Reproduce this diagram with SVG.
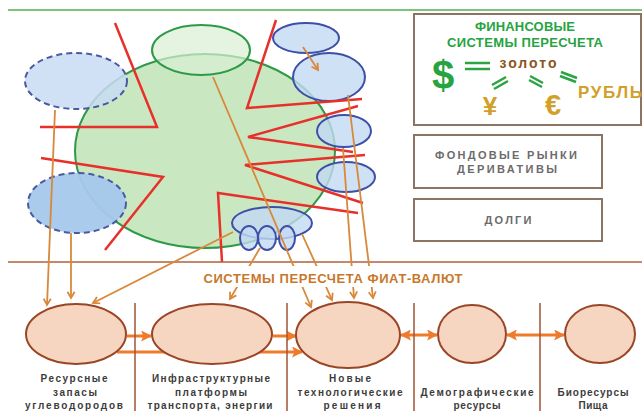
<svg xmlns="http://www.w3.org/2000/svg" width="642" height="411" viewBox="0 0 642 411">
<defs>
<marker id="oa" viewBox="0 0 10 10" refX="8" refY="5" markerWidth="9" markerHeight="9" markerUnits="userSpaceOnUse" orient="auto">
<path d="M1,1 L8,5 L1,9" fill="none" stroke="#d9883a" stroke-width="2"/>
</marker>
<marker id="ob" viewBox="0 0 10 10" refX="9" refY="5" markerWidth="11" markerHeight="11" markerUnits="userSpaceOnUse" orient="auto-start-reverse">
<path d="M0,0 L10,5 L0,10 L2,5 z" fill="#ee7a2a"/>
</marker>
</defs>
<style>
.blue{fill:#c3d9f2;fill-opacity:0.8;stroke:#3d4fa8;stroke-width:2}
.red{fill:none;stroke:#e8302a;stroke-width:2.5;stroke-linejoin:miter}
.con{fill:none;stroke:#d9883a;stroke-width:1.8;marker-end:url(#oa)}
.pl{fill:none;stroke:#d9883a;stroke-width:1.8}
.bot{fill:#f6d6c0;stroke:#9a4526;stroke-width:2}
.flow{fill:none;stroke:#ee7a2a;stroke-width:3;marker-end:url(#ob)}
.div{stroke:#a05533;stroke-width:1.5}
.box{fill:#fff;stroke:#8c7362;stroke-width:2}
.lab{font-family:"Liberation Sans",Arial,sans-serif;font-weight:bold;font-size:10px;fill:#3c3c3c;text-anchor:middle}
.gt{font-family:"Liberation Sans",Arial,sans-serif;font-weight:bold;font-size:11px;fill:#6b6b6b;text-anchor:middle}
.gr{font-family:"Liberation Sans",Arial,sans-serif;font-weight:bold;fill:#27a33f;text-anchor:middle}
.gold{font-family:"Liberation Sans",Arial,sans-serif;font-weight:bold;fill:#d2a02a;text-anchor:middle}
.eq{stroke:#2ca444;stroke-width:2.5}
</style>
<line x1="8" y1="10" x2="642" y2="10" stroke="#7cc47a" stroke-width="2"/>
<g id="core">
<ellipse cx="205" cy="151" rx="130" ry="97" fill="#c9e7c1" stroke="#2e9a48" stroke-width="2"/>
</g>
<g id="top-green">
<ellipse cx="201" cy="50" rx="49" ry="25" fill="#d9efd3" fill-opacity="0.7" stroke="#2e9a48" stroke-width="2"/>
</g>
<g id="left-dashed-1">
<ellipse cx="76" cy="81" rx="51" ry="28" fill="#c8dcf3" fill-opacity="0.85" stroke="#4a5aa0" stroke-width="2" stroke-dasharray="6,4"/>
</g>
<g id="left-dashed-2">
<ellipse cx="77" cy="203" rx="49" ry="30" fill="#a7c8ec" fill-opacity="0.95" stroke="#4a5aa0" stroke-width="2" stroke-dasharray="6,4"/>
</g>
<g id="right-ellipses">
<ellipse class="blue" cx="306" cy="38" rx="33" ry="15"/>
<ellipse class="blue" cx="329" cy="77" rx="36" ry="24"/>
<ellipse class="blue" cx="344" cy="131" rx="27" ry="16"/>
<ellipse class="blue" cx="346" cy="177" rx="29" ry="15"/>
<ellipse class="blue" cx="272" cy="223" rx="40" ry="16"/>
<ellipse class="blue" cx="249" cy="238" rx="9" ry="12"/>
<ellipse class="blue" cx="267" cy="238" rx="9" ry="12"/>
<ellipse class="blue" cx="287" cy="238" rx="8" ry="12"/>
</g>
<g id="red-lines">
<polyline class="red" points="115,23 157,127 40,127"/>
<polyline class="red" points="41,158 163,177 105,250"/>
<polyline class="red" points="276,20 247,108 362,99"/>
<polyline class="red" points="358,106 248,137 353,152"/>
<polyline class="red" points="365,155 245,165 363,203"/>
<polyline class="red" points="358,213 218,193 222,262"/>
</g>
<line x1="8" y1="262" x2="642" y2="262" stroke="#b0603a" stroke-width="1.5"/>
<g id="connectors">
<line class="con" x1="303" y1="47" x2="318" y2="70"/>
<line class="con" x1="55" y1="110" x2="47" y2="305"/>
<line class="con" x1="71" y1="233" x2="71" y2="298"/>
<line class="con" x1="233" y1="232" x2="93" y2="303"/>
<line class="con" x1="260" y1="248" x2="230" y2="299"/>
<line class="con" x1="213" y1="77" x2="311" y2="307"/>
<line class="con" x1="302" y1="234" x2="332" y2="300"/>
<line class="con" x1="343" y1="148" x2="354" y2="298"/>
<line class="con" x1="348" y1="95" x2="373" y2="298"/>
<line class="flow" x1="127" y1="336" x2="151" y2="336"/>
<line class="flow" x1="273" y1="336" x2="296" y2="336"/>
<line class="flow" x1="117" y1="352" x2="302" y2="352"/>
<line class="flow" x1="401" y1="335" x2="437" y2="335" marker-start="url(#ob)"/>
<line class="flow" x1="507" y1="335" x2="564" y2="335" marker-start="url(#ob)"/>
</g>
<rect x="198" y="266" width="272" height="21" fill="#fff"/>
<text x="333" y="283" font-family="Liberation Sans, Arial, sans-serif" font-weight="bold" font-size="13" fill="#c8782a" text-anchor="middle" textLength="259" lengthAdjust="spacing">СИСТЕМЫ ПЕРЕСЧЕТА ФИАТ-ВАЛЮТ</text>
<g id="dividers">
<line class="div" x1="135" y1="303" x2="135" y2="411"/>
<line class="div" x1="287" y1="303" x2="287" y2="411"/>
<line class="div" x1="414" y1="303" x2="414" y2="411"/>
<line class="div" x1="540" y1="303" x2="540" y2="411"/>
</g>
<g id="resources">
<ellipse class="bot" cx="76" cy="334" rx="50" ry="30"/>
<text class="lab" x="74" y="382" textLength="67" lengthAdjust="spacing">Ресурсные</text>
<text class="lab" x="75" y="396" textLength="44" lengthAdjust="spacing">запасы</text>
<text class="lab" x="74" y="409" textLength="98" lengthAdjust="spacing">углеводородов</text>
</g>
<g id="infrastructure">
<ellipse class="bot" cx="212" cy="334" rx="60" ry="30"/>
<text class="lab" x="211" y="382" textLength="118" lengthAdjust="spacing">Инфраструктурные</text>
<text class="lab" x="211" y="396" textLength="72" lengthAdjust="spacing">платформы</text>
<text class="lab" x="210" y="409" textLength="125" lengthAdjust="spacing">транспорта, энергии</text>
</g>
<g id="technology">
<ellipse class="bot" cx="348" cy="335" rx="52" ry="33"/>
<text class="lab" x="350" y="382" textLength="42" lengthAdjust="spacing">Новые</text>
<text class="lab" x="350" y="396" textLength="105" lengthAdjust="spacing">технологические</text>
<text class="lab" x="352" y="409" textLength="57" lengthAdjust="spacing">решения</text>
</g>
<g id="demography">
<ellipse class="bot" cx="472" cy="334" rx="34" ry="29"/>
<text class="lab" x="477" y="396" textLength="113" lengthAdjust="spacing">Демографические</text>
<text class="lab" x="477" y="409" textLength="47" lengthAdjust="spacing">ресурсы</text>
</g>
<g id="bioresources">
<ellipse class="bot" cx="600" cy="334" rx="35" ry="29"/>
<text class="lab" x="593" y="396" textLength="71" lengthAdjust="spacing">Биоресурсы</text>
<text class="lab" x="593" y="409" textLength="29" lengthAdjust="spacing">Пища</text>
</g>
<g id="financial-systems">
<rect class="box" x="414" y="14" width="227" height="111"/>
<text class="gr" x="525" y="31" font-size="13" textLength="100" lengthAdjust="spacing">ФИНАНСОВЫЕ</text>
<text class="gr" x="525" y="47" font-size="13" textLength="156" lengthAdjust="spacing">СИСТЕМЫ ПЕРЕСЧЕТА</text>
<text class="gr" x="443" y="89" font-size="40">$</text>
<line class="eq" x1="465" y1="63" x2="490" y2="63"/>
<line class="eq" x1="465" y1="69" x2="490" y2="69"/>
<text x="528" y="68" font-family="Liberation Sans, Arial, sans-serif" font-weight="bold" font-size="14" fill="#8b5520" text-anchor="middle" textLength="57" lengthAdjust="spacing">золото</text>
<line class="eq" x1="492" y1="85" x2="506" y2="77"/>
<line class="eq" x1="494" y1="89" x2="508" y2="81"/>
<line class="eq" x1="530" y1="76" x2="543" y2="83"/>
<line class="eq" x1="529" y1="80" x2="542" y2="87"/>
<line class="eq" x1="561" y1="72" x2="577" y2="78"/>
<line class="eq" x1="560" y1="76" x2="576" y2="82"/>
<text class="gold" x="490" y="115" font-size="26">¥</text>
<text class="gold" x="553" y="115" font-size="29">€</text>
<text class="gold" x="610" y="98" font-size="17" textLength="64" lengthAdjust="spacing">РУБЛЬ</text>
</g>
<g id="stock-markets">
<rect class="box" x="414" y="135" width="188" height="53"/>
<text class="gt" x="506" y="159" textLength="142" lengthAdjust="spacing">ФОНДОВЫЕ РЫНКИ</text>
<text class="gt" x="507" y="173" textLength="100" lengthAdjust="spacing">ДЕРИВАТИВЫ</text>
</g>
<g id="debts">
<rect class="box" x="414" y="199" width="188" height="42"/>
<text class="gt" x="508" y="224" textLength="47" lengthAdjust="spacing">ДОЛГИ</text>
</g>
</svg>
